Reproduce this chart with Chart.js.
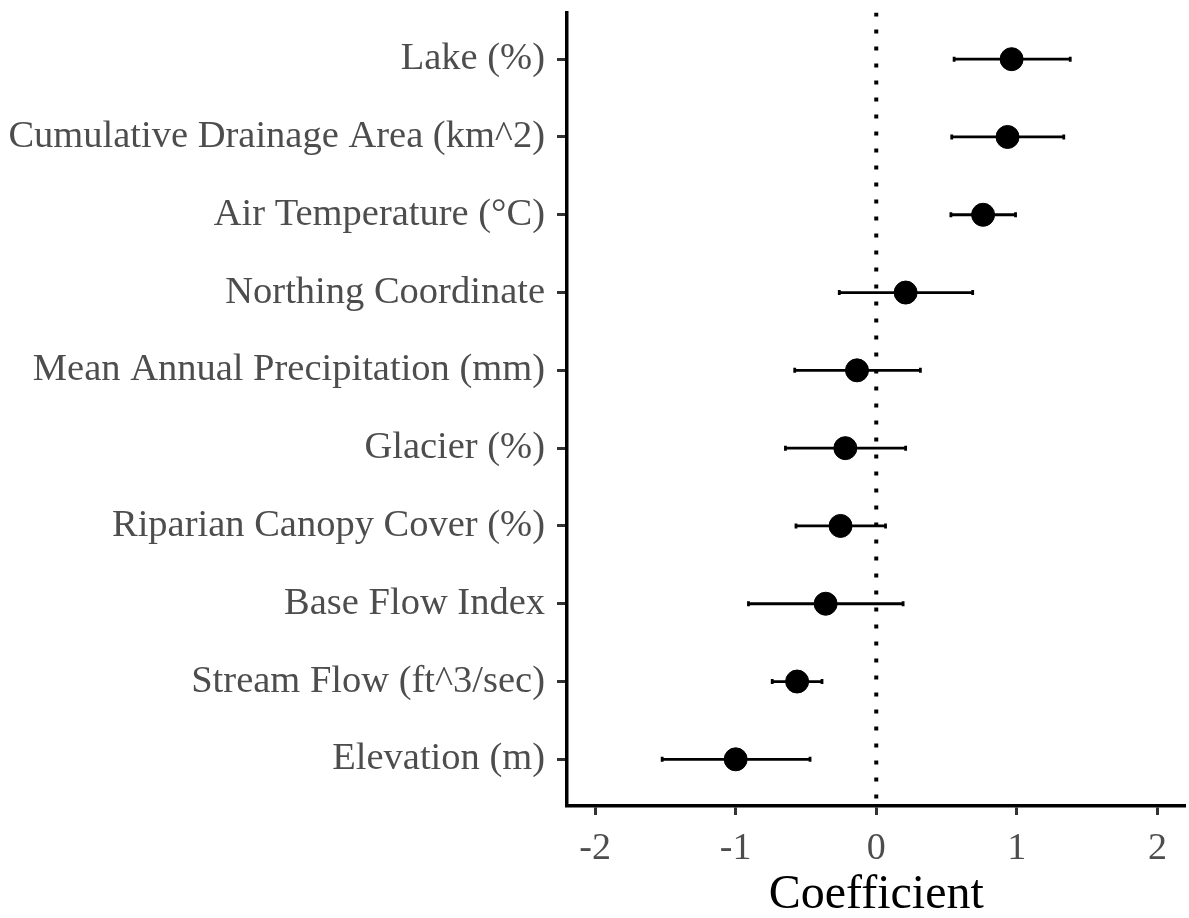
<!DOCTYPE html>
<html>
<head>
<meta charset="utf-8">
<script src="https://cdn.jsdelivr.net/npm/chart.js@4/dist/chart.umd.min.js"></script>
<style>
  html, body { margin: 0; padding: 0; background: #fff; overflow: hidden; }
  /* a bit wider than the window so the plot panel reaches the right edge like the original */
  #wrap { width: 1198px; height: 918px; }
</style>
</head>
<body>
<div id="wrap"><canvas id="coefChart"></canvas></div>
<script>
// ---- data (top row first) ----
const variables = [
  "Lake (%)",
  "Cumulative Drainage Area (km^2)",
  "Air Temperature (°C)",
  "Northing Coordinate",
  "Mean Annual Precipitation (mm)",
  "Glacier (%)",
  "Riparian Canopy Cover (%)",
  "Base Flow Index",
  "Stream Flow (ft^3/sec)",
  "Elevation (m)"
];
const estimate = [0.963, 0.934, 0.760, 0.209, -0.137, -0.220, -0.254, -0.360, -0.563, -1.000];
const lower    = [0.554, 0.537, 0.531, -0.263, -0.580, -0.646, -0.571, -0.909, -0.740, -1.523];
const upper    = [1.380, 1.334, 0.991, 0.686, 0.314, 0.209, 0.066, 0.191, -0.386, -0.471];
const xTicks   = [-2, -1, 0, 1, 2];

const serif = "'Liberation Serif', 'DejaVu Serif', serif";

// ---- datasets ----
const pointSet = {
  label: "Coefficient",
  data: estimate.map((v, i) => ({ x: v, y: i })),
  backgroundColor: "#000",
  borderColor: "#000",
  pointRadius: 11.5,
  showLine: false,
  order: 0
};

const barSets = variables.map((name, i) => ({
  label: name,
  data: [{ x: lower[i], y: i }, { x: upper[i], y: i }],
  showLine: true,
  borderColor: "#000",
  borderWidth: 2.8,
  pointStyle: "line",
  rotation: 90,
  pointRadius: 2.5,
  pointBorderWidth: 2.8,
  pointBorderColor: "#000",
  order: 1
}));

const zeroLine = {
  label: "zero",
  data: [{ x: 0, y: -0.6 }, { x: 0, y: 9.6 }],
  showLine: true,
  borderColor: "#000",
  borderWidth: 4,
  borderDash: [4, 13],
  pointRadius: 0,
  order: 2
};

new Chart(document.getElementById("coefChart"), {
  type: "scatter",
  data: { datasets: [pointSet, ...barSets, zeroLine] },
  options: {
    responsive: true,
    maintainAspectRatio: false,
    animation: false,
    layout: { padding: { top: 10, right: 4, left: 0, bottom: 0 } },
    plugins: {
      legend: { display: false },
      tooltip: { enabled: false }
    },
    scales: {
      x: {
        type: "linear",
        min: -2.2,
        max: 2.2,
        afterFit: s => { s.height = 112; },
        afterBuildTicks: s => { s.ticks = xTicks.map(v => ({ value: v })); },
        border: { display: true, color: "#000", width: 3.5 },
        grid: { drawOnChartArea: false, color: "#333", tickColor: "#333", tickWidth: 3, tickLength: 9 },
        ticks: {
          color: "#4d4d4d",
          padding: 11,
          font: { family: serif, size: 38 },
          callback: v => String(v)
        },
        title: {
          display: true,
          text: "Coefficient",
          color: "#000",
          font: { family: serif, size: 48 },
          padding: { top: 0, bottom: -6 }
        }
      },
      y: {
        type: "linear",
        min: -0.6,
        max: 9.6,
        reverse: true,
        afterFit: s => { s.width = 567; s.paddingTop = 0; s.paddingBottom = 0; },
        afterBuildTicks: s => { s.ticks = variables.map((n, i) => ({ value: i })); },
        border: { display: true, color: "#000", width: 3.5 },
        grid: { drawOnChartArea: false, color: "#333", tickColor: "#333", tickWidth: 3, tickLength: 10 },
        ticks: {
          color: "#4d4d4d",
          padding: 12,
          font: { family: serif, size: 38.5 },
          callback: v => variables[v]
        }
      }
    }
  }
});
</script>
</body>
</html>
